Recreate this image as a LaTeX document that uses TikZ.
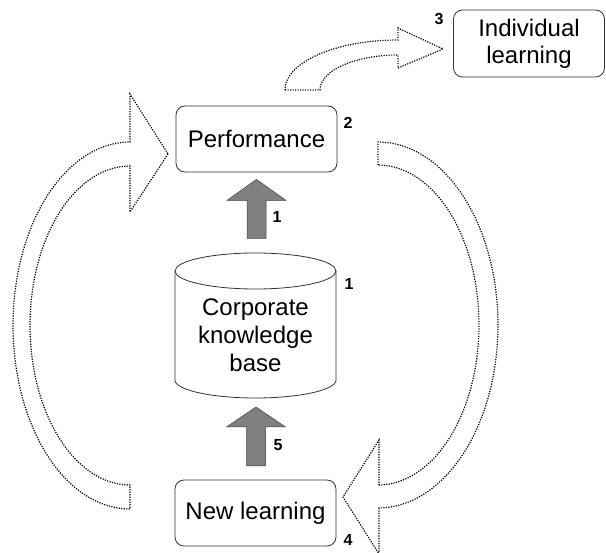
\documentclass[tikz,border=0pt]{standalone}
\usepackage{fontspec}
\setmainfont{Liberation Sans}
\begin{document}
\begin{tikzpicture}[x=1pt,y=-1pt,
  box/.style={draw=black!80, line width=0.8pt, rounded corners=9pt,
    minimum width=161pt, minimum height=66pt, inner sep=0pt,
    align=center, font=\fontsize{24}{27}\selectfont},
  label text/.style={font=\fontsize{24}{28}\selectfont, align=center},
  num/.style={font=\fontsize{16}{16}\selectfont\bfseries, inner sep=0pt},
  flow/.style={draw=black, line width=1.2pt, dash pattern=on 1.2pt off 1.3pt},
  lift/.style={fill=black!50, draw=black!75, line width=0.5pt},
  drum/.style={draw=black!80, line width=0.8pt}
]
\useasboundingbox (0,0) rectangle (606,553);

% boxes
\node[box] (perf) at (256.5,139) {Performance};
\node[box] (newl) at (255.5,513) {New learning};
\node[box, minimum width=151pt, minimum height=67pt] (indiv) at (529,43.5) {Individual\\learning};

% corporate knowledge base drum
\draw[drum] (255.5,271) ellipse [x radius=80.5, y radius=18];
\draw[drum] (175,271) -- (175,380)
  -- plot[domain=180:0, samples=60, variable=\t] ({255.5+80.5*cos(\t)},{380+18*sin(\t)})
  -- (336,271);
\coordinate (kbtop) at (255.5,253);
\coordinate (kbbot) at (255.5,398);
\node[label text] (kb) at (255.5,335) {Corporate\\knowledge\\base};

% solid lift arrows
\path (perf.south) ++(0,7) coordinate (t1);
\draw[lift] (t1) -- ++(29.5,21) -- ++(-20,0) -- ++(0,38) -- ++(-19,0)
  -- ++(0,-38) -- ++(-20,0) -- cycle;
\path (kbbot) ++(0.5,9) coordinate (t5);
\draw[lift] (t5) -- ++(29.5,20) -- ++(-20,0) -- ++(0,39) -- ++(-19,0)
  -- ++(0,-39) -- ++(-20,0) -- cycle;

% dotted curved block arrows
\draw[flow] (285,90) -- (320,90)
  -- plot[domain=180:270, samples=40, variable=\t] ({398+78*cos(\t)},{90+35*sin(\t)})
  -- (398,68) -- (443,49) -- (398,28) -- (398,40)
  -- plot[domain=270:180, samples=40, variable=\t] ({398+113*cos(\t)},{90+50*sin(\t)})
  -- cycle;

\draw[flow] (168,154) -- (130,212) -- (130,166)
  -- plot[domain=270:90, samples=80, variable=\t] ({130+100*cos(\t)},{325.5+159.5*sin(\t)})
  -- plot[domain=90:270, samples=80, variable=\t] ({130+117*cos(\t)},{325.5+183.5*sin(\t)})
  -- (130,94) -- cycle;

\draw[flow] (378,165) -- (378,142)
  -- plot[domain=-90:90, samples=80, variable=\t] ({378+120*cos(\t)},{325+183*sin(\t)})
  -- (379,508) -- (379,554) -- (343,497) -- (379,440) -- (379,485)
  -- plot[domain=90:-90, samples=80, variable=\t] ({378+101*cos(\t)},{325+160*sin(\t)})
  -- cycle;

% step numbers
\node[num] (n2) at (348,123) {2};
\node[num] (n1a) at (277,217) {1};
\node[num] (n1b) at (349,284) {1};
\node[num] (n5) at (278,445) {5};
\node[num] (n4) at (348,540) {4};
\node[num] (n3) at (439,19) {3};
\end{tikzpicture}
\end{document}
